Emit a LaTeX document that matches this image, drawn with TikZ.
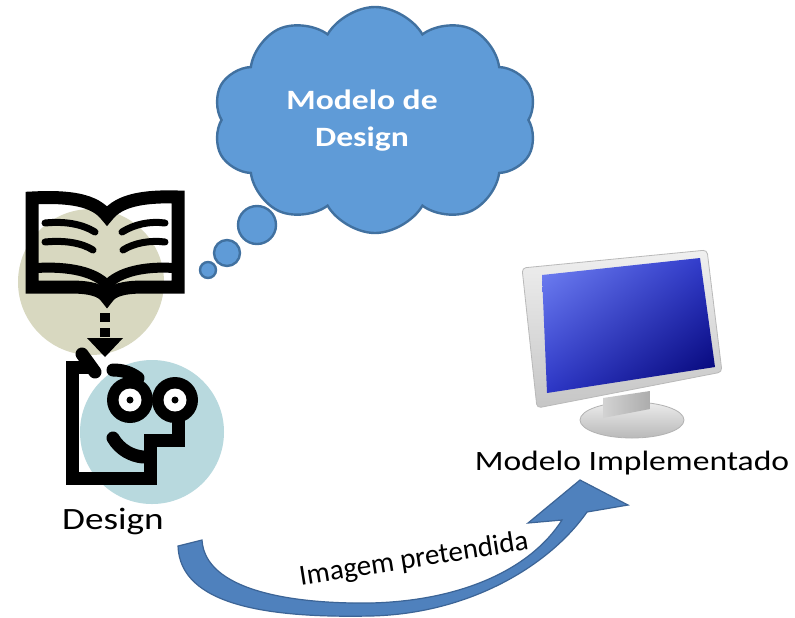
\documentclass[tikz,border=0pt]{standalone}
\usepackage{fontspec}
\setmainfont{Carlito}
\newfontfamily\widefont{Carlito}[FakeStretch=1.2]
\usetikzlibrary{shapes.symbols, arrows.meta, shadings}

\definecolor{cloudblue}{RGB}{95,155,215}
\definecolor{cloudedge}{RGB}{65,113,160}
\definecolor{beige}{RGB}{216,216,192}
\definecolor{paleblue}{RGB}{184,217,222}
\definecolor{arrowblue}{RGB}{79,129,189}
\definecolor{arrowedge}{RGB}{60,100,150}
\definecolor{screenlight}{RGB}{115,132,244}
\definecolor{screenmid}{RGB}{45,55,200}
\definecolor{screendark}{RGB}{0,0,110}

\begin{document}
\begin{tikzpicture}[x=0.5pt, y=-0.5pt,
    bubble/.style={draw=cloudedge, fill=cloudblue, line width=1.2pt},
    ink/.style={line width=6.5pt, line join=miter},
    pageline/.style={line width=3.5pt, line cap=round},
    captext/.style={font=\widefont\fontsize{14}{17}\selectfont, text=black}
  ]
  \useasboundingbox (0,0) rectangle (795,617);
  \fill[white] (0,0) rectangle (795,617);

  % backdrop discs behind the two icons
  \fill[beige] (91,282) circle (73);
  \fill[paleblue] (152,432) circle (72);

  % thought cloud with its trail of bubbles
  \node[cloud, cloud puffs=10, cloud puff arc=120, aspect=1.5, bubble,
    minimum width=162pt, minimum height=113pt] (thought) at (375,120) {};
  \node[font=\widefont\bfseries\fontsize{14}{18.5}\selectfont, text=white, align=center]
    (thoughttext) at (362,121) {Modelo de\\Design};
  \draw[bubble] (257,225) circle (19);
  \draw[bubble] (227,253) circle (13);
  \draw[bubble] (208,270) circle (8);

  % open book
  \draw[ink] (32,287) -- (32,198) .. controls (70,196) and (95,200) .. (107,216)
    .. controls (119,200) and (144,196) .. (178,197) -- (178,287) -- (144,287)
    .. controls (124,287) and (112,290) .. (107,298)
    .. controls (102,290) and (90,287) .. (70,287) -- cycle;
  \draw[line width=5pt] (36,268) .. controls (70,266) and (95,272) .. (107,285)
    .. controls (119,272) and (144,266) .. (174,268);
  \draw[pageline] (45,223) .. controls (65,221) and (82,224) .. (95,232);
  \draw[pageline] (45,242) .. controls (65,240) and (82,243) .. (93,250);
  \draw[pageline] (122,232) .. controls (135,224) and (150,221) .. (165,223);
  \draw[pageline] (123,250) .. controls (134,243) and (150,240) .. (165,242);

  % dotted drop from book to face
  \draw[line width=5pt, dash pattern=on 4.5pt off 3pt] (105,313) -- (105,337);
  \fill (87,338) -- (123,338) -- (105,357) -- cycle;

  % face
  \draw[ink] (88,367) -- (72,367) -- (72,478) -- (150,478) -- (150,440)
    -- (178,440) -- (178,416);
  \draw[ink, line cap=round] (82,354) -- (95,372);
  \draw[ink, line cap=round] (113,370) .. controls (122,370) and (130,372) .. (138,378);
  \foreach \ex in {130,175}{
    \fill (\ex,400) circle (23);
    \fill[white] (\ex,400) circle (11.5);
    \fill (\ex,400) circle (3.5);
  }
  \draw[ink, line cap=round] (113,438) .. controls (120,450) and (132,456) .. (143,457);
  \node[font=\widefont\fontsize{15.5}{18}\selectfont] (designtext) at (113,521) {Design};

  % monitor
  \shade[top color=gray!15, bottom color=gray!55, draw=gray!60, line width=0.4pt]
    (632,420) ellipse (52 and 18);
  \shade[left color=gray!35, right color=gray!65] (603,398) -- (650,391) -- (650,409) -- (603,418) -- cycle;
  \shade[top color=gray!12, bottom color=gray!45, draw=gray!55, line width=0.4pt, rounded corners=2pt]
    (522,268) -- (707,250) -- (722,372) -- (537,408) -- cycle;
  \shade[upper left=screenlight, upper right=screenmid, lower left=screenmid, lower right=screendark]
    (542,275) -- (700,258) -- (715,367) -- (547,393) -- cycle;
  \node[captext] (implemented) at (632,463) {Modelo Implementado};

  % curved arrow from design to implementation
  \fill[arrowblue, draw=arrowedge, line width=0.6pt]
    (178,546) .. controls (180,606) and (270,618) .. (370,616)
    .. controls (470,614) and (550,565) .. (587,512)
    -- (628,505) -- (580,480) -- (528,523) -- (562,520)
    .. controls (530,570) and (460,601) .. (370,603)
    .. controls (290,604) and (205,590) .. (202,540) -- cycle;
  \node[font=\fontsize{14.5}{17}\selectfont, rotate=9] (intended) at (414,560) {Imagem pretendida};
\end{tikzpicture}
\end{document}
